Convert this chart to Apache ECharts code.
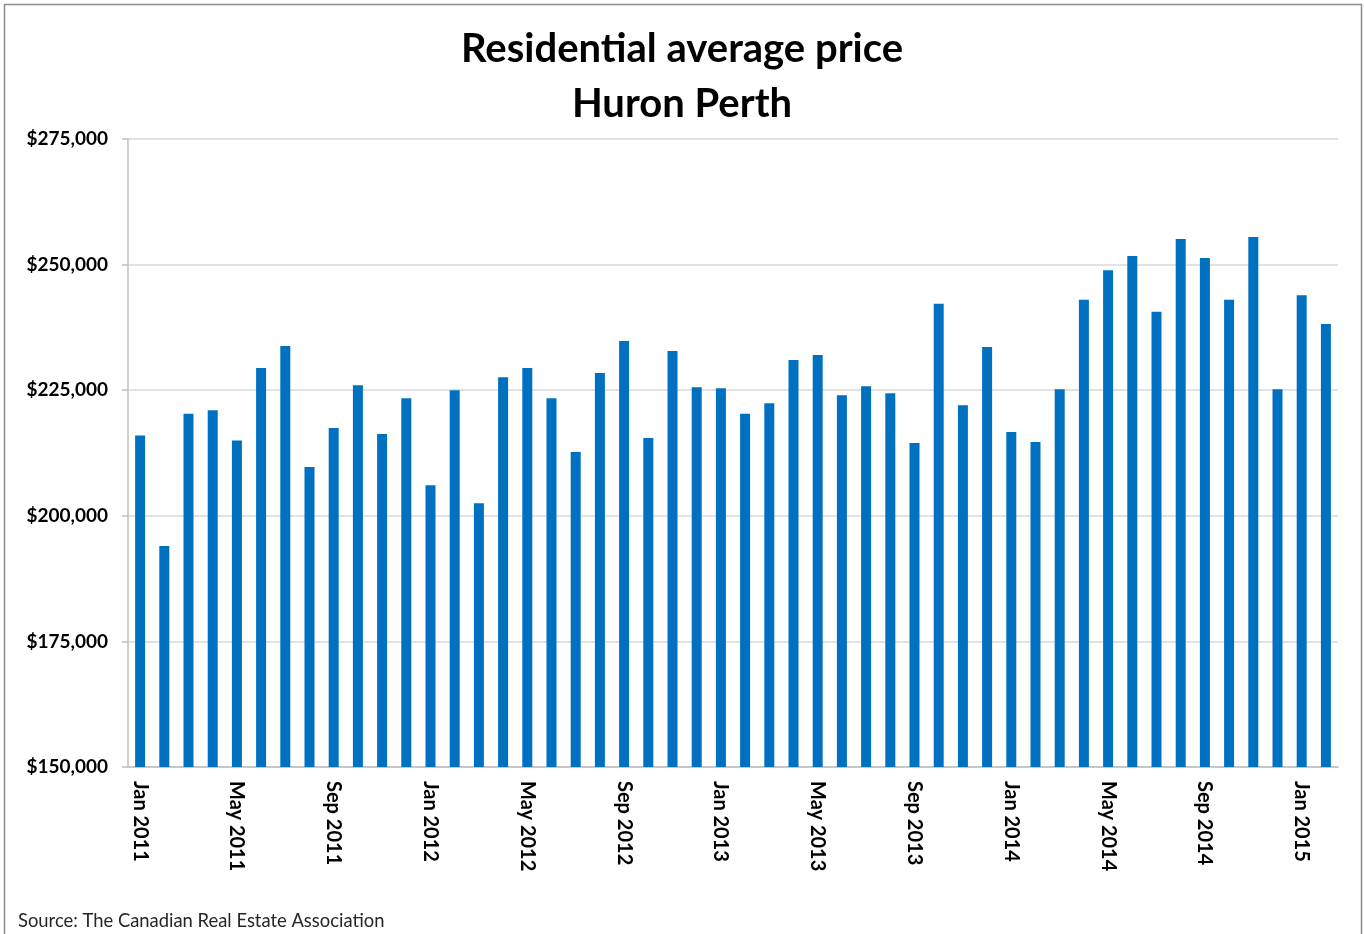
<!DOCTYPE html>
<html>
<head>
<meta charset="utf-8">
<script src="https://cdn.jsdelivr.net/npm/echarts@6/dist/echarts.min.js"></script>
<style>html,body{margin:0;padding:0;background:#fff}#c{width:1364px;height:934px}</style>
</head>
<body>
<div id="c"></div>
<script>
const months = ['Jan','Feb','Mar','Apr','May','Jun','Jul','Aug','Sep','Oct','Nov','Dec'];
const categories = [];
for (let y = 2011; y <= 2015; y++) for (let m = 0; m < 12; m++) {
  if (y === 2015 && m > 1) break;
  categories.push(months[m] + ' ' + y);
}
const prices = [
  216000, 194000, 220300, 221000, 215000, 229400, 233800, 209700, 217500, 226000, 216300, 223400,
  206100, 225000, 202500, 227600, 229400, 223400, 212700, 228400, 234800, 215500, 232800, 225600,
  225400, 220300, 222400, 231000, 232000, 224000, 225800, 224400, 214500, 242200, 222000, 233600,
  216700, 214700, 225200, 243000, 248900, 251700, 240600, 255100, 251300, 243000, 255500, 225200,
  243900, 238200
];
const titleLines = ['Residential average price', 'Huron Perth'];
const sourceText = 'Source: The Canadian Real Estate Association';

const font = 'Lato, "Open Sans", sans-serif';
const chart = echarts.init(document.getElementById('c'));
chart.setOption({
  animation: false,
  backgroundColor: '#fff',
  title: {
    text: titleLines.join('\n'),
    left: 'center', top: 17,
    textStyle: { fontFamily: font, fontSize: 40, fontWeight: 'bold', color: '#000', lineHeight: 55 }
  },
  graphic: [
    { type: 'rect', shape: { x: 4.5, y: 4.5, width: 1357, height: 940 }, style: { fill: 'none', stroke: '#8c8c8c', lineWidth: 1.5 }, silent: true },
    { type: 'text', left: 18, top: 912, style: { text: sourceText, font: '18.4px ' + font, fill: '#262626' } }
  ],
  grid: { left: 128, right: 26, top: 139, bottom: 167 },
  xAxis: {
    type: 'category', data: categories, boundaryGap: true,
    axisLine: { lineStyle: { color: '#bfbfbf', width: 1.5 } },
    axisTick: { interval: 3, length: 6, lineStyle: { color: '#bfbfbf', width: 1.5 } },
    axisLabel: { interval: 3, rotate: -90, margin: 14, fontFamily: font, fontSize: 20, fontWeight: 'bold', color: '#000' }
  },
  yAxis: {
    type: 'value', min: 150000, max: 275000, interval: 25000,
    axisLine: { show: true, lineStyle: { color: '#bfbfbf', width: 1.5 } },
    axisTick: { show: true, length: 6, lineStyle: { color: '#bfbfbf', width: 1.5 } },
    splitLine: { lineStyle: { color: '#d9d9d9', width: 1.5 } },
    axisLabel: {
      margin: 20, fontFamily: font, fontSize: 19, fontWeight: 'bold', color: '#000',
      formatter: v => '$' + v.toLocaleString('en-US')
    }
  },
  series: [{
    type: 'bar', data: prices, barWidth: 10,
    itemStyle: { color: '#0070c0' }
  }]
});
</script>
</body>
</html>
